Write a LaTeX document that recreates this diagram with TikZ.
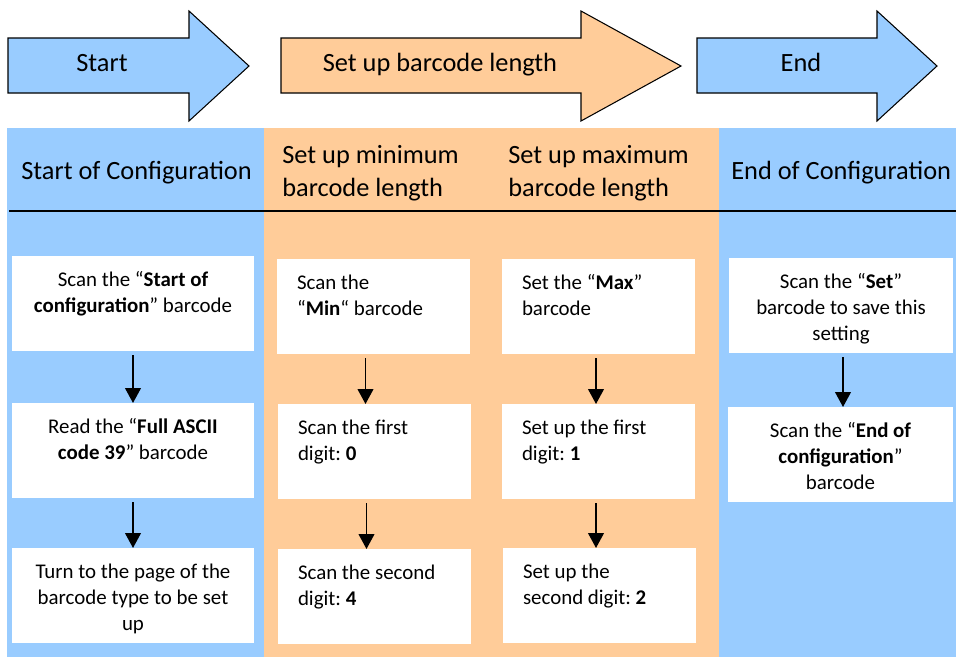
\documentclass[tikz,border=0pt]{standalone}
\usepackage{fontspec}
\setmainfont{Carlito}
\usetikzlibrary{calc,arrows.meta,positioning}
\definecolor{cfgblue}{RGB}{153,204,255}
\definecolor{cfgorange}{RGB}{255,204,153}
\newcommand{\boxtext}[3]{\parbox[c][1.9cm][t]{#1}{#2\rule{0pt}{17pt}#3}}
\frenchspacing

\begin{document}
\begin{tikzpicture}[x=0.02cm,y=-0.02cm,
        every node/.style={font=\fontsize{11.9}{14.9}\selectfont},
        stepbox/.style={fill=white, anchor=north, inner sep=0pt, minimum height=1.9cm},
        header/.style={anchor=west, inner sep=0pt, align=left, font=\fontsize{15}{18.6}\selectfont},
        banner/.style={fill=#1, draw=black, line width=0.6pt},
        bannertext/.style={anchor=base, font=\fontsize{15}{18}\selectfont},
        flow/.style={-{Triangle[width=8.9pt,length=8.5pt]}, line width=1.1pt, shorten <=2pt}]
        \useasboundingbox (0,0) rectangle (956,657);

        % columns
        \fill[cfgblue] (7,128) rectangle (264,657);
        \fill[cfgorange] (264,128) rectangle (719,657);
        \fill[cfgblue] (719,128) rectangle (956,657);
        \draw[line width=1.1pt] (9,211) -- (956,211);

        % banners
        \draw[banner=cfgblue] (8,38) -- (189,38) -- (189,11) -- (249,66) -- (189,121) -- (189,93) -- (8,93) -- cycle;
        \draw[banner=cfgorange] (281,38) -- (581,38) -- (581,11) -- (681,66) -- (581,121) -- (581,93) -- (281,93) -- cycle;
        \draw[banner=cfgblue] (697,38) -- (877,38) -- (877,11) -- (937,66) -- (877,121) -- (877,93) -- (697,93) -- cycle;
        \node[bannertext] (startlbl) at (102,71) {Start};
        \node[bannertext] (setuplbl) at (440,71) {Set up barcode length};
        \node[bannertext] (endlbl) at (801,71) {End};

        % headers
        \node[header] (hstart) at (21,173) {Start of Configuration};
        \node[header] (hmin) at (282,173) {Set up minimum\\barcode length};
        \node[header] (hmax) at (508,173) {Set up maximum\\barcode length};
        \node[header] (hend) at (731,173) {End of Configuration};

        % start of configuration
        \node[stepbox, minimum width=4.84cm] (cfg1) at (133,256) {\boxtext{4.44cm}{\centering}{Scan the “\textbf{Start of}\\\textbf{configuration}” barcode}};
        \node[stepbox, minimum width=4.84cm] (cfg2) at (133,403) {\boxtext{4.44cm}{\centering}{Read the “\textbf{Full ASCII}\\\textbf{code 39}” barcode}};
        \node[stepbox, minimum width=4.84cm] (cfg3) at (133,548) {\boxtext{4.44cm}{\centering}{Turn to the page of the\\barcode type to be set\\up}};

        % minimum length
        \node[stepbox, minimum width=3.86cm] (min1) at (373.5,259) {\boxtext{3.06cm}{\raggedright}{Scan the\\“\textbf{Min}“ barcode}};
        \node[stepbox, minimum width=3.86cm] (min2) at (374.5,404) {\boxtext{3.06cm}{\raggedright}{Scan the first\\digit: \textbf{0}}};
        \node[stepbox, minimum width=3.86cm] (min3) at (374.5,549) {\boxtext{3.06cm}{\raggedright}{Scan the second\\digit: \textbf{4}}};

        % maximum length
        \node[stepbox, minimum width=3.86cm] (max1) at (598.5,259) {\boxtext{3.06cm}{\raggedright}{Set the “\textbf{Max}”\\barcode}};
        \node[stepbox, minimum width=3.86cm] (max2) at (598.5,404) {\boxtext{3.06cm}{\raggedright}{Set up the first\\digit: \textbf{1}}};
        \node[stepbox, minimum width=3.86cm] (max3) at (599.5,548) {\boxtext{3.06cm}{\raggedright}{Set up the\\second digit: \textbf{2}}};

        % end of configuration
        \node[stepbox, minimum width=4.5cm] (end1) at (841,258) {\boxtext{4.1cm}{\centering}{Scan the “\textbf{Set}”\\barcode to save this\\setting}};
        \node[stepbox, minimum width=4.5cm] (end2) at (840.5,407) {\boxtext{4.1cm}{\centering}{Scan the “\textbf{End of}\\\textbf{configuration}”\\barcode}};

        % flow arrows
        \draw[flow] (cfg1.south) -- (cfg1.south |- cfg2.north);
        \draw[flow] (cfg2.south) -- (cfg2.south |- cfg3.north);
        \draw[flow] ([xshift=-0.16cm]min1.south) -- ([xshift=-0.16cm]min1.south |- min2.north);
        \draw[flow] ([xshift=-0.16cm]min2.south) -- ([xshift=-0.16cm]min2.south |- min3.north);
        \draw[flow] ([xshift=-0.05cm]max1.south) -- ([xshift=-0.05cm]max1.south |- max2.north);
        \draw[flow] ([xshift=-0.05cm]max2.south) -- ([xshift=-0.05cm]max2.south |- max3.north);
        \draw[flow] ([xshift=0.04cm]end1.south) -- ([xshift=0.04cm]end1.south |- end2.north);
\end{tikzpicture}
\end{document}
